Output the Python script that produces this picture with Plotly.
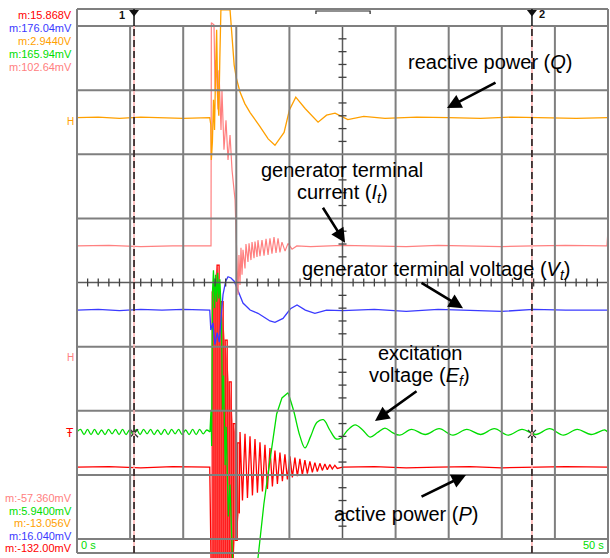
import plotly.graph_objects as go

# Horizontal: time in seconds (5 s/div, 0..50 s). Vertical: screen divisions (0..8).
# ---- reactive power Q (orange)
q_t = [0, 0, 2, 4, 6, 8, 10, 12.5, 12.6, 12.65, 12.75, 12.85, 12.95, 13.05, 13.15, 13.25, 13.35,
       13.45, 13.55, 14.41, 14.55, 14.7, 14.8, 15.0, 15.35, 15.8, 16.3, 17.2, 18.0, 18.64, 19.5,
       20.0, 20.6, 21.5, 22.7, 23.5, 24.3, 25.5, 27, 29, 32, 35, 38, 41, 44, 47, 50]
q_v = [4.6, 6.57, 6.58, 6.56, 6.58, 6.57, 6.56, 6.57, 6.46, 5.91, 6.2, 6.85, 6.38, 7.3, 7.94, 6.9,
       6.6, 7.5, 8.25, 8.25, 7.94, 7.5, 7.39, 7.19, 6.97, 6.79, 6.65, 6.44, 6.24, 6.14, 6.34,
       6.69, 6.89, 6.71, 6.5, 6.61, 6.64, 6.54, 6.59, 6.56, 6.58, 6.57, 6.56, 6.58, 6.57, 6.56, 6.57]

# ---- generator terminal current It (pink)
i_t = [0, 0, 3, 6, 9, 12.62, 12.65, 12.9, 13.0, 13.09, 13.28, 13.37, 13.56, 13.65, 13.84, 14.03,
       14.22, 14.41, 14.6, 14.88, 14.97, 15.16, 15.25, 15.35, 15.44, 15.54, 15.63, 15.82, 15.91,
       16.1, 16.2, 16.38, 16.48, 16.67, 16.76, 16.95, 17.04, 17.23, 17.42, 17.61, 17.8, 17.99,
       18.17, 18.36, 18.55, 18.74, 18.93, 19.11, 19.3, 19.59, 19.87, 20.25, 20.7, 22, 25, 28, 31,
       34, 37, 40, 43, 46, 49.9, 50]
i_v = [0.0, 4.57, 4.58, 4.56, 4.57, 4.57, 8.05, 8.02, 7.0, 7.47, 6.7, 7.31, 6.38, 7.0, 6.07, 6.53,
       5.91, 6.3, 5.75, 5.29, 4.82, 3.81, 4.43, 3.96, 4.54, 4.12, 4.51, 4.22, 4.6, 4.32, 4.61,
       4.35, 4.63, 4.38, 4.64, 4.4, 4.66, 4.41, 4.66, 4.42, 4.68, 4.43, 4.69, 4.45, 4.71, 4.46,
       4.69, 4.47, 4.63, 4.49, 4.61, 4.52, 4.57, 4.56, 4.58, 4.57, 4.56, 4.58, 4.57, 4.56, 4.57,
       4.58, 4.57, 4.82]

# ---- generator terminal voltage Vt (blue)
v_t = [0, 2, 4, 6, 8, 10, 12.5, 12.6, 12.8, 12.99, 13.2, 13.4, 13.6, 13.75, 14.0, 14.22, 14.5,
       14.8, 15.07, 15.63, 16.3, 17.04, 17.7, 18.17, 18.64, 19.4, 20.1, 20.72, 21.5, 22.4, 23.5,
       25, 28, 31, 34, 37, 40, 43, 46, 50]
v_v = [3.57, 3.58, 3.56, 3.58, 3.57, 3.58, 3.57, 3.26, 3.37, 3.03, 3.22, 3.07, 3.52, 3.81, 4.02,
       4.09, 4.07, 4.02, 3.91, 3.68, 3.57, 3.52, 3.45, 3.4, 3.38, 3.44, 3.59, 3.65, 3.57, 3.52,
       3.57, 3.56, 3.58, 3.55, 3.58, 3.57, 3.55, 3.58, 3.57, 3.57]

# ---- excitation voltage Ef (green): pre-fault ripple, transient, recovery
e1_t = [0.0, 0.33, 0.66, 0.99, 1.32, 1.65, 1.98, 2.31, 2.64, 2.97, 3.3, 3.63, 3.96, 4.29, 4.62,
        4.95, 5.28, 5.61, 5.94, 6.27, 6.6, 6.93, 7.26, 7.59, 7.92, 8.25, 8.58, 8.91, 9.24, 9.57,
        9.9, 10.23, 10.56, 10.89, 11.22, 11.55, 11.88, 12.21, 12.52]
e1_v = [1.67, 1.71, 1.63, 1.71, 1.63, 1.71, 1.63, 1.70, 1.63, 1.71, 1.64, 1.71, 1.63, 1.71, 1.63,
        1.70, 1.63, 1.71, 1.63, 1.71, 1.64, 1.71, 1.63, 1.70, 1.63, 1.71, 1.63, 1.71, 1.64, 1.71,
        1.63, 1.70, 1.63, 1.71, 1.63, 1.71, 1.64, 1.70, 1.67]
e2_t = [12.52, 12.62, 12.68, 12.76, 12.85, 12.95, 13.05, 13.15, 13.25, 13.35, 13.45, 13.6, 13.7,
        13.8, 13.95, 14.05, 14.25, 14.4, 14.65, 17.0, 17.04, 17.6, 18.17, 18.8, 19.3, 19.87]
e2_v = [1.67, 2.01, 1.45, 3.85, 4.19, 3.6, 4.12, 3.7, 4.15, 3.75, 4.05, 3.45, 2.01, 2.55, 1.15,
        1.75, 0.35, 0.85, -0.35, -0.35, -0.30, 0.55, 1.23, 1.95, 2.2, 2.28]
e3_t = [19.87, 20.4, 21.0, 21.47, 22.0, 22.6, 23.2, 23.8, 24.4, 24.9, 25.5, 26.2, 26.9, 27.6,
        28.3, 29.0, 29.7, 30.4, 31.5, 32.8, 34.1, 35.4, 36.7, 38.0, 39.3, 40.6, 41.9, 43.2, 44.5,
        45.8, 47.1, 48.4, 49.7, 49.95]
e3_v = [2.28, 2.0, 1.6, 1.42, 1.6, 1.82, 1.86, 1.7, 1.56, 1.58, 1.7, 1.78, 1.7, 1.59, 1.66, 1.73,
        1.66, 1.62, 1.71, 1.63, 1.72, 1.62, 1.71, 1.63, 1.72, 1.62, 1.71, 1.63, 1.72, 1.62, 1.71,
        1.63, 1.70, 1.67]
e4_t = [49.95, 50, 50]
e4_v = [1.67, 1.67, 2.87]

# ---- active power P (red): pre-fault, dense oscillation block, decaying swing
p1_t = [0, 0, 3, 6, 9, 12.5, 12.62]
p1_v = [0.0, 1.12, 1.13, 1.11, 1.13, 1.12, -0.35]
p2_t = [12.62, 12.81, 13.0, 13.19, 13.38, 13.57, 13.76, 13.95, 14.14, 14.33, 14.52, 14.71, 14.9,
        15.09, 15.28]
p2_v = [-0.35, 3.9, -0.35, 4.27, -0.35, 3.7, -0.35, 3.1, -0.35, 2.45, -0.35, 1.8, -0.02, 1.5, 0.4]
p3_t = [15.28, 15.35, 15.58, 15.82, 16.05, 16.29, 16.52, 16.76, 16.99, 17.23, 17.46, 17.7, 17.93,
        18.17, 18.4, 18.64, 18.87, 19.11, 19.34, 19.58, 19.81, 20.05, 20.28, 20.52, 20.75, 20.99,
        21.22, 21.46, 21.69, 21.93, 22.16, 22.4, 22.63, 22.87, 23.1, 23.34, 23.57, 23.81, 24.04,
        24.28, 24.51, 25, 28, 31, 34, 37, 40, 43, 46, 50]
p3_v = [0.4, 1.67, 0.6, 1.64, 0.64, 1.6, 0.68, 1.56, 0.72, 1.51, 0.74, 1.47, 0.78, 1.42, 0.82,
        1.38, 0.86, 1.35, 0.9, 1.32, 0.93, 1.29, 0.96, 1.27, 0.98, 1.25, 1.0, 1.23, 1.02, 1.21,
        1.04, 1.19, 1.05, 1.18, 1.07, 1.17, 1.08, 1.16, 1.09, 1.15, 1.1, 1.12, 1.13, 1.11, 1.12,
        1.13, 1.11, 1.12, 1.13, 1.12]
# envelope of the dense oscillation block (light fill)
pf_t = [12.62, 12.81, 13.19, 13.57, 13.95, 14.33, 14.71, 15.09, 15.28, 14.9, 14.71, 12.62]
pf_v = [3.85, 3.9, 4.27, 3.7, 3.1, 2.45, 1.8, 1.5, 0.4, -0.02, -0.35, -0.35]

# ---- cursors
cursor_t = [5.37, 42.84]
cursor_mark_v = [1.65, 1.64]

# ---- measurement labels
top_labels = ["m:15.868V", "m:176.04mV", "m:2.9440V", "m:165.94mV", "m:102.64mV"]
bot_labels = ["m:-57.360mV", "m:5.9400mV", "m:-13.056V", "m:16.040mV", "m:-132.00mV"]

RED, BLUE, ORANGE, GREEN, PINK = "#ff0000", "#3a3aff", "#ffa000", "#00dd00", "#ff8080"
top_colors = [RED, BLUE, ORANGE, GREEN, PINK]
bot_colors = [PINK, GREEN, ORANGE, BLUE, RED]

W, H = 610, 558
X0, XPPS = 77.0, 10.62      # pixel of t=0, pixels per second
Y0, YPPD = 539.0, 64.125    # pixel of div=0, pixels per division
xr = [-X0 / XPPS, (W - X0) / XPPS]
yr = [-(H - Y0) / YPPD, Y0 / YPPD]
TOP_HDR = Y0 / YPPD - 9 / YPPD
BOT_HDR = -(553 - Y0) / YPPD

fig = go.Figure()

GRID = "#7f7f7f"
shapes = []
for k in range(1, 10):
    shapes.append(dict(type="line", xref="x", yref="y", x0=5 * k, x1=5 * k, y0=0, y1=8,
                       line=dict(color="#5a5a5a" if k == 5 else GRID, width=2 if k != 5 else 1.5)))
for k in range(0, 9):
    shapes.append(dict(type="line", xref="x", yref="y", x0=0, x1=50, y0=k, y1=k,
                       line=dict(color="#5a5a5a" if k == 4 else GRID, width=2 if k != 4 else 1.5)))
for yy in (TOP_HDR, BOT_HDR):
    shapes.append(dict(type="line", xref="x", yref="y", x0=0, x1=50, y0=yy, y1=yy,
                       line=dict(color=GRID, width=2)))
for xx in (0, 50):
    shapes.append(dict(type="line", xref="x", yref="y", x0=xx, x1=xx, y0=BOT_HDR, y1=TOP_HDR,
                       line=dict(color=GRID, width=2)))
# minor ticks on centre axes
for s in range(1, 50):
    if s % 5:
        shapes.append(dict(type="line", xref="x", yref="y", x0=s, x1=s, y0=4 - 4 / YPPD,
                           y1=4 + 4 / YPPD, line=dict(color="#404040", width=1.3)))
for j in range(1, 40):
    if j % 5:
        d = j * 0.2
        shapes.append(dict(type="line", xref="x", yref="y", x0=25 - 4 / XPPS, x1=25 + 4 / XPPS,
                           y0=d, y1=d, line=dict(color="#404040", width=1.3)))
# zoom bracket in header
shapes.append(dict(type="path", xref="x", yref="y",
                   path=f"M 22.5 {TOP_HDR - 5/YPPD} L 22.5 {TOP_HDR - 2/YPPD} L 27.6 {TOP_HDR - 2/YPPD} L 27.6 {TOP_HDR - 5/YPPD}",
                   line=dict(color="#222", width=1.2)))
# cursors
for ct in cursor_t:
    shapes.append(dict(type="line", xref="x", yref="y", x0=ct, x1=ct, y0=BOT_HDR, y1=8,
                       line=dict(color="#ffb0b0", width=1.5)))
    shapes.append(dict(type="line", xref="x", yref="y", x0=ct, x1=ct, y0=BOT_HDR, y1=8,
                       line=dict(color="#111", width=1.5, dash="7px,4px")))
    shapes.append(dict(type="line", xref="x", yref="y", x0=ct, x1=ct, y0=8, y1=TOP_HDR,
                       line=dict(color="#111", width=1.5)))

def line(x, y, color, width=1.2, shape="linear", fill=None, fillcolor=None):
    fig.add_trace(go.Scatter(x=x, y=y, mode="lines", line=dict(color=color, width=width, shape=shape),
                             fill=fill, fillcolor=fillcolor, hoverinfo="skip", showlegend=False))

line(pf_t, pf_v, "rgba(0,0,0,0)", width=0, fill="toself", fillcolor="rgba(255,130,130,0.9)")
line(p1_t, p1_v, RED, 1.3)
line(p2_t, p2_v, RED, 1.3, shape="hv")
line(p3_t, p3_v, RED, 1.3)
line(e1_t, e1_v, GREEN, 1.3, shape="spline")
line(e2_t, e2_v, GREEN, 1.3)
line(e3_t, e3_v, GREEN, 1.3, shape="spline")
line(e4_t, e4_v, GREEN, 1.3)
line(v_t, v_v, BLUE, 1.3)
line(i_t, i_v, PINK, 1.2)
line(q_t, q_v, ORANGE, 1.3)

# cursor crosses on the excitation trace and header triangles
fig.add_trace(go.Scatter(x=cursor_t, y=cursor_mark_v, mode="markers",
                         marker=dict(symbol="x-thin", size=8, line=dict(color="#333", width=1.3)),
                         hoverinfo="skip", showlegend=False))
fig.add_trace(go.Scatter(x=cursor_t, y=[TOP_HDR - 3 / YPPD] * 2, mode="markers",
                         marker=dict(symbol="triangle-down", size=9, color="#111"),
                         hoverinfo="skip", showlegend=False))

FONT = "Liberation Sans, Arial, sans-serif"
ann = []
def ptext(x, y, text, color="black", size=11, xanchor="right", yanchor="middle"):
    ann.append(dict(x=x / W, y=1 - y / H, xref="paper", yref="paper", text=text, showarrow=False,
                    xanchor=xanchor, yanchor=yanchor, font=dict(family=FONT, size=size, color=color)))

for i, (t, c) in enumerate(zip(top_labels, top_colors)):
    ptext(74, 15 + i * 13, t, c)
for i, (t, c) in enumerate(zip(bot_labels, bot_colors)):
    ptext(74, 498 + i * 12.5, t, c)
ptext(127, 15, "<b>1</b>", "#111", 11, "right")
ptext(537, 14, "<b>2</b>", "#111", 11, "left")
ptext(79, 545, "0 s", GREEN, 11, "left")
ptext(606, 545, "50 s", GREEN, 11, "right")
# channel reference markers
ptext(76, 122, "H", ORANGE, 10)
ptext(76, 357, "H", PINK, 10)
ptext(76, 433, "Ŧ", RED, 12)

# descriptive labels
FS = 20
ptext(490, 62, "reactive power (<i>Q</i>)", "black", FS, "center")
ptext(342, 170, "generator terminal", "black", FS, "center")
ptext(342, 193, "current (<i>I<sub>t</sub></i>)", "black", FS, "center")
ptext(300, 270, "generator terminal voltage (<i>V<sub>t</sub></i>)", "black", FS, "left")
ptext(420, 353, "excitation", "black", FS, "center")
ptext(419, 376, "voltage (<i>E<sub>f</sub></i>)", "black", FS, "center")
ptext(406, 514, "active power (<i>P</i>)", "black", FS, "center")

# arrows: (tail t, tail div, head t, head div)
arrows = [(39.55, 7.13, 34.84, 6.72), (23.07, 5.19, 25.24, 4.62), (32.30, 4.01, 36.35, 3.60),
          (32.11, 2.32, 28.06, 1.84), (32.30, 0.65, 36.63, 1.00)]
for tx, ty, hx, hy in arrows:
    ann.append(dict(x=hx, y=hy, ax=tx, ay=ty, xref="x", yref="y", axref="x", ayref="y", text="",
                    showarrow=True, arrowhead=2, arrowsize=1.1, arrowwidth=2.6, arrowcolor="black"))

fig.update_layout(width=W, height=H, margin=dict(l=0, r=0, t=0, b=0), paper_bgcolor="white",
                  plot_bgcolor="white", shapes=shapes, annotations=ann,
                  xaxis=dict(range=xr, visible=False, fixedrange=True),
                  yaxis=dict(range=yr, visible=False, fixedrange=True))
fig.write_html("out.html")
